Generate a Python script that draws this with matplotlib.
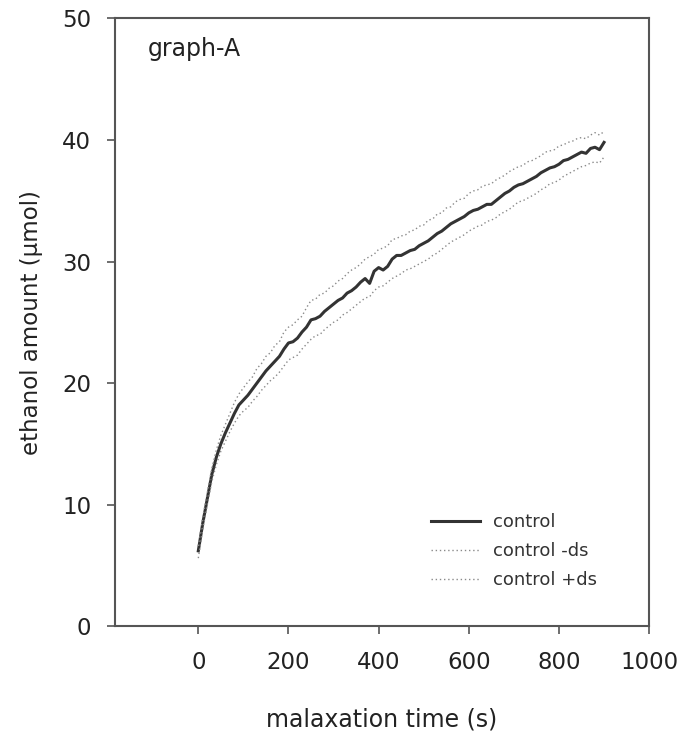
import matplotlib
matplotlib.use("Agg")
import matplotlib.pyplot as plt

plt.rcParams['font.family'] = ['DejaVu Sans']

time_s = list(range(0, 901, 10))

control = [6.2, 8.5, 10.5, 12.5, 13.9, 15.0, 15.9, 16.7, 17.5, 18.2,
           18.6, 19.0, 19.5, 20.0, 20.5, 21.0, 21.4, 21.8, 22.2, 22.8,
           23.3, 23.4, 23.7, 24.2, 24.6, 25.2, 25.3, 25.5, 25.9, 26.2,
           26.5, 26.8, 27.0, 27.4, 27.6, 27.9, 28.3, 28.6, 28.2, 29.2,
           29.5, 29.3, 29.6, 30.2, 30.5, 30.5, 30.7, 30.9, 31.0, 31.3,
           31.5, 31.7, 32.0, 32.3, 32.5, 32.8, 33.1, 33.3, 33.5, 33.7,
           34.0, 34.2, 34.3, 34.5, 34.7, 34.7, 35.0, 35.3, 35.6, 35.8,
           36.1, 36.3, 36.4, 36.6, 36.8, 37.0, 37.3, 37.5, 37.7, 37.8,
           38.0, 38.3, 38.4, 38.6, 38.8, 39.0, 38.9, 39.3, 39.4, 39.2,
           39.8]

control_plus_ds = [6.6, 9.0, 11.0, 13.0, 14.5, 15.7, 16.6, 17.5, 18.4, 19.1,
                   19.6, 20.1, 20.5, 21.2, 21.6, 22.2, 22.5, 23.1, 23.4, 24.2,
                   24.6, 24.8, 25.2, 25.5, 26.2, 26.8, 26.9, 27.3, 27.4, 27.8,
                   28.0, 28.4, 28.6, 29.0, 29.3, 29.5, 29.8, 30.2, 30.4, 30.6,
                   31.0, 31.1, 31.3, 31.8, 31.9, 32.1, 32.2, 32.5, 32.6, 32.9,
                   33.0, 33.4, 33.5, 33.9, 34.0, 34.4, 34.5, 34.9, 35.1, 35.2,
                   35.6, 35.8, 35.9, 36.2, 36.3, 36.4, 36.7, 36.9, 37.1, 37.4,
                   37.6, 37.8, 37.9, 38.2, 38.3, 38.5, 38.7, 39.0, 39.1, 39.2,
                   39.5, 39.6, 39.8, 39.9, 40.1, 40.2, 40.1, 40.4, 40.6, 40.4,
                   40.7]

control_minus_ds = [5.6, 8.0, 10.0, 11.9, 13.3, 14.4, 15.2, 16.0, 16.7, 17.3,
                    17.7, 18.0, 18.5, 18.9, 19.4, 19.8, 20.2, 20.5, 20.9, 21.4,
                    21.9, 22.1, 22.3, 22.8, 23.2, 23.6, 23.9, 24.0, 24.4, 24.7,
                    25.0, 25.2, 25.6, 25.8, 26.1, 26.4, 26.7, 27.0, 27.1, 27.6,
                    27.9, 28.0, 28.3, 28.6, 28.8, 29.0, 29.3, 29.4, 29.6, 29.8,
                    30.0, 30.2, 30.5, 30.7, 31.0, 31.3, 31.6, 31.8, 32.0, 32.2,
                    32.5, 32.7, 32.9, 33.0, 33.3, 33.4, 33.6, 33.9, 34.1, 34.3,
                    34.6, 34.9, 35.0, 35.2, 35.4, 35.6, 35.9, 36.1, 36.4, 36.5,
                    36.7, 37.0, 37.2, 37.4, 37.6, 37.8, 37.9, 38.1, 38.2, 38.1,
                    38.6]

x_ticks = [0, 200, 400, 600, 800, 1000]
y_ticks = [0, 10, 20, 30, 40, 50]

fig = plt.figure(figsize=(6.84, 7.35), dpi=100)
ax = fig.add_axes([0.168, 0.148, 0.781, 0.827])

ax.plot(time_s, control, color='#333333', lw=2.2, solid_joinstyle='round', label='control')
ax.plot(time_s, control_minus_ds, color='#8a8a8a', lw=1.0, ls=(0, (1, 2)), label='control -ds')
ax.plot(time_s, control_plus_ds, color='#8a8a8a', lw=1.0, ls=(0, (1, 2)), label='control +ds')

ax.set_xlim(-185, 1000)
ax.set_ylim(0, 50)
ax.set_xticks(x_ticks)
ax.set_yticks(y_ticks)

for s in ax.spines.values():
    s.set_color('#555555')
    s.set_linewidth(1.5)

ax.tick_params(axis='x', direction='out', length=6, width=1.2, color='#555555',
               labelsize=16.5, pad=12, labelcolor='#222222')
ax.tick_params(axis='y', direction='out', length=6, width=1.2, color='#555555',
               labelsize=16.5, pad=11, labelcolor='#222222')

ax.set_xlabel('malaxation time (s)', fontsize=17, labelpad=24, color='#222222')
ax.set_ylabel('ethanol amount (\u03bcmol)', fontsize=16.5, labelpad=14, color='#222222')

ax.text(0.062, 0.95, 'graph-A', transform=ax.transAxes, fontsize=17,
        va='center', ha='left', color='#222222')

leg = ax.legend(loc='upper left', bbox_to_anchor=(431 / 684, 1 - 513 / 735),
                bbox_transform=fig.transFigure, frameon=False, borderpad=0,
                borderaxespad=0, fontsize=13, handlelength=2.7,
                labelspacing=0.62, handletextpad=0.75)
for t in leg.get_texts():
    t.set_color('#333333')

fig.savefig('out.png', dpi=100)
